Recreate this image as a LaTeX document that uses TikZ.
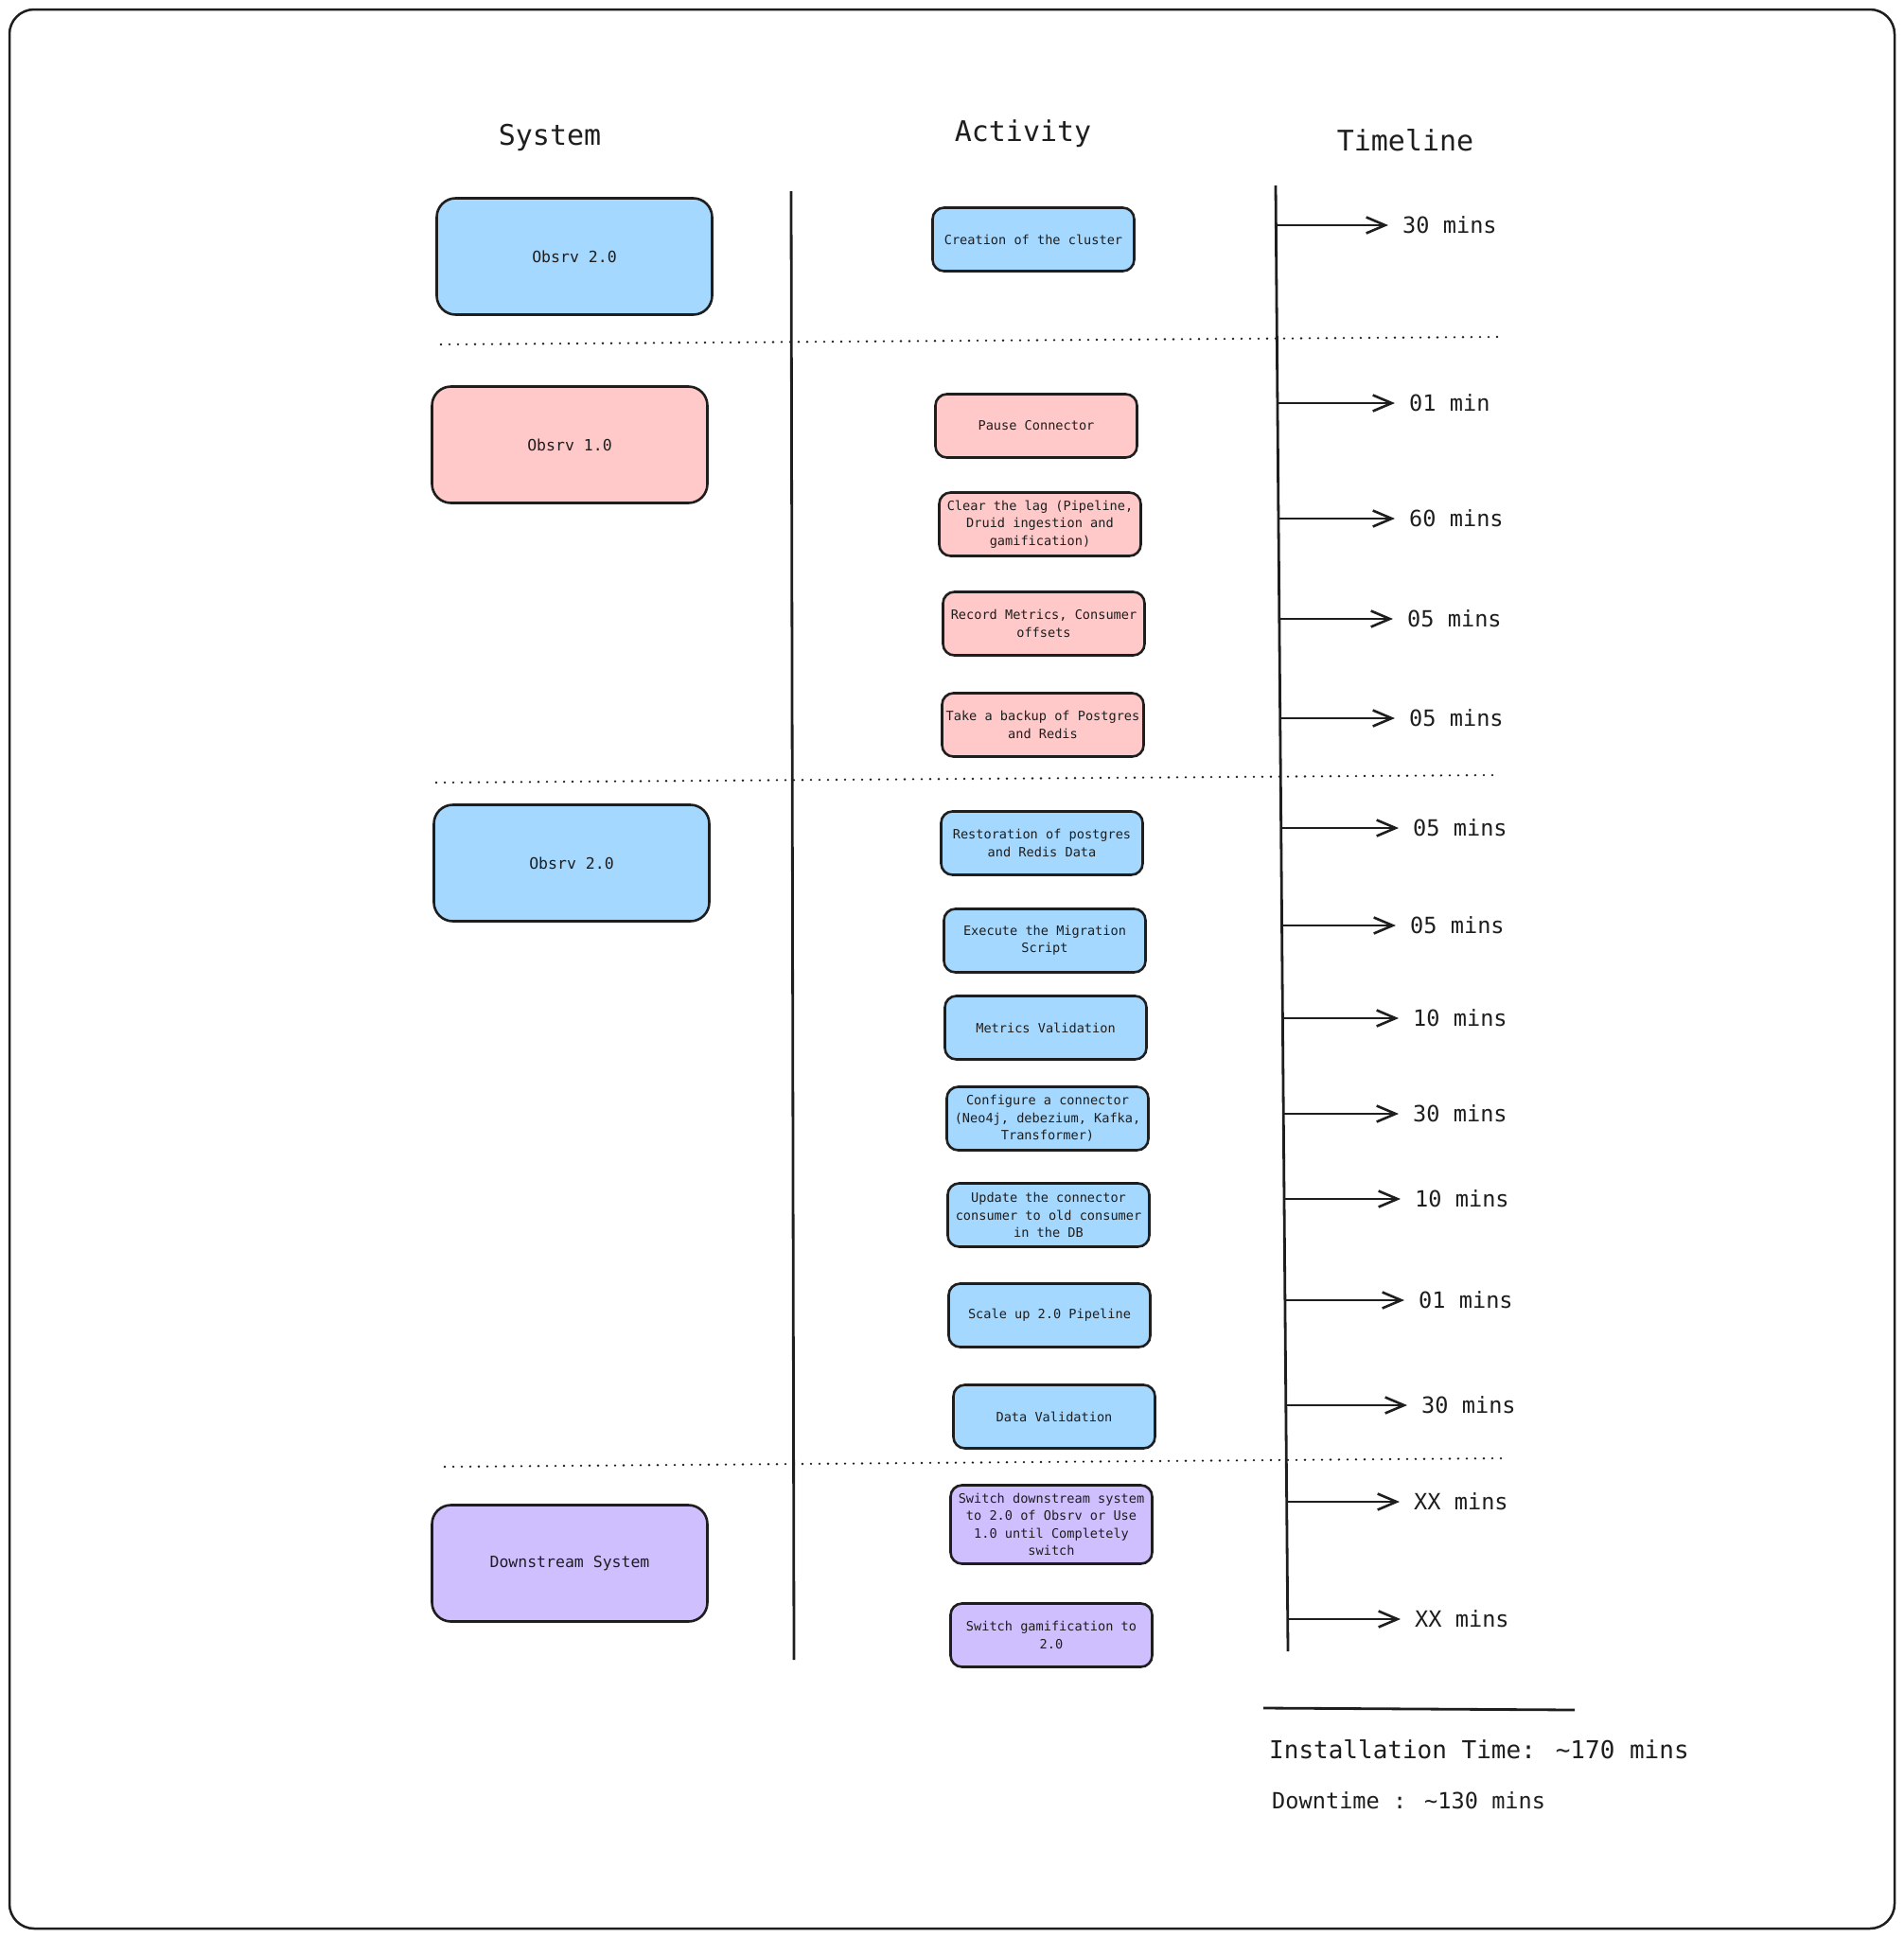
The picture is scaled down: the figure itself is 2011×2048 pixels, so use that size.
\documentclass[tikz,border=0pt]{standalone}
\usepackage{fontspec}
\setmainfont{DejaVu Sans Mono}
\usetikzlibrary{arrows.meta}
\definecolor{ink}{HTML}{1E1E1E}
\definecolor{blu}{HTML}{A5D8FF}
\definecolor{pnk}{HTML}{FFC9C9}
\definecolor{prp}{HTML}{D0BFFF}
\begin{document}
\begin{tikzpicture}[x=1pt,y=-1pt,
  sysbox/.style={draw=ink, line width=2.6pt, rounded corners=20pt, minimum width=291pt, minimum height=123pt, font=\fontsize{16.5}{20}\selectfont, text=ink},
  actbox/.style={draw=ink, line width=2.6pt, rounded corners=12pt, minimum width=213pt, inner sep=2pt, minimum height=67pt, align=center, font=\fontsize{13.6}{18.3}\selectfont, text=ink},
  heading/.style={font=\fontsize{30}{36}\selectfont, text=ink},
  tlabel/.style={anchor=west, inner sep=0pt, font=\fontsize{23.6}{28}\selectfont, text=ink},
  tarrow/.style={draw=ink, line width=2.6pt, -{Straight Barb[length=20pt,width=17pt]}, shorten >=15pt},
  sepline/.style={draw=ink, line width=2.8pt},
  dotline/.style={draw=ink, line width=2.6pt, line cap=round, dash pattern=on 0pt off 9pt},
  sumtext/.style={anchor=west, inner sep=0pt, text=ink},
]
\useasboundingbox (0,0) rectangle (2011,2048);
% frame
\draw[ink, line width=2.5pt, rounded corners=26pt] (10,10) rectangle (2002,2038);

% headings
\node[heading] (hsys) at (581,145) {System};
\node[heading] (hact) at (1081,141) {Activity};
\node[heading] (htime) at (1485,148) {Timeline};

% vertical separators
\coordinate (v1a) at (836,202);
\coordinate (v1b) at (839,1754);
\draw[sepline] (v1a) -- (v1b);
\coordinate (v2a) at (1348,196);
\coordinate (v2b) at (1361,1745);
\draw[sepline] (v2a) -- (v2b);

% dotted separators
\coordinate (d1a) at (466,364); \coordinate (d1b) at (1583,356);
\coordinate (d2a) at (461,827); \coordinate (d2b) at (1585,819);
\coordinate (d3a) at (470,1550); \coordinate (d3b) at (1594,1541);
\draw[dotline] (d1a) -- (d1b);
\draw[dotline] (d2a) -- (d2b);
\draw[dotline] (d3a) -- (d3b);

% system boxes
\node[sysbox, fill=blu] (s1) at (607,271) {Obsrv 2.0};
\node[sysbox, fill=pnk] (s2) at (602,470) {Obsrv 1.0};
\node[sysbox, fill=blu] (s3) at (604,912) {Obsrv 2.0};
\node[sysbox, fill=prp] (s4) at (602,1652) {Downstream System};

% activity boxes
\node[actbox, fill=blu] (a1) at (1092,253) {Creation of the cluster};
\node[actbox, fill=pnk] (a2) at (1095,450) {Pause Connector};
\node[actbox, fill=pnk] (a3) at (1099,554) {Clear the lag (Pipeline,\\Druid ingestion and\\gamification)};
\node[actbox, fill=pnk] (a4) at (1103,659) {Record Metrics, Consumer\\offsets};
\node[actbox, fill=pnk] (a5) at (1102,766) {Take a backup of Postgres\\and Redis};
\node[actbox, fill=blu] (a6) at (1101,891) {Restoration of postgres\\and Redis Data};
\node[actbox, fill=blu] (a7) at (1104,994) {Execute the Migration\\Script};
\node[actbox, fill=blu] (a8) at (1105,1086) {Metrics Validation};
\node[actbox, fill=blu] (a9) at (1107,1182) {Configure a connector\\(Neo4j, debezium, Kafka,\\Transformer)};
\node[actbox, fill=blu] (a10) at (1108,1284) {Update the connector\\consumer to old consumer\\in the DB};
\node[actbox, fill=blu] (a11) at (1109,1390) {Scale up 2.0 Pipeline};
\node[actbox, fill=blu] (a12) at (1114,1497) {Data Validation};
\node[actbox, fill=prp, minimum height=83pt] (a13) at (1111,1611) {Switch downstream system\\to 2.0 of Obsrv or Use\\1.0 until Completely\\switch};
\node[actbox, fill=prp] (a14) at (1111,1728) {Switch gamification to\\2.0};

% timeline arrows and labels
\foreach \i/\sx/\y/\lx/\txt in {
  1/1348/238/1482/30 mins,
  2/1350/426/1489/01 min,
  3/1351/548/1489/60 mins,
  4/1351/654/1487/05 mins,
  5/1353/759/1489/05 mins,
  6/1354/875/1493/05 mins,
  7/1354/978/1490/05 mins,
  8/1355/1076/1493/10 mins,
  9/1355/1177/1493/30 mins,
  10/1357/1267/1495/10 mins,
  11/1358/1374/1499/01 mins,
  12/1359/1485/1502/30 mins,
  13/1359/1587/1494/XX mins,
  14/1361/1711/1495/XX mins}{
  \coordinate (ts\i) at (\sx,\y);
  \node[tlabel] (tl\i) at (\lx,\y) {\txt};
  \draw[tarrow] (ts\i) -- (tl\i.west);
}

% summary
\coordinate (sumA) at (1335,1805);
\coordinate (sumB) at (1664,1807);
\draw[ink, line width=2.8pt] (sumA) -- (sumB);
\node[sumtext, font=\fontsize{26}{30}\selectfont] (inst) at (1341,1849) {Installation Time: \textasciitilde170 mins};
\node[sumtext, font=\fontsize{23.6}{28}\selectfont] (down) at (1344,1903) {Downtime : \textasciitilde130 mins};
\end{tikzpicture}
\end{document}
